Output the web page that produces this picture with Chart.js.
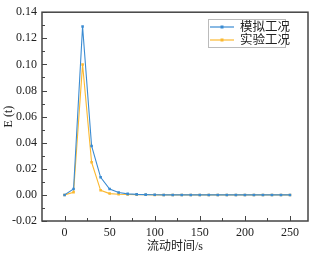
<!DOCTYPE html>
<html>
<head>
<meta charset="utf-8">
<script src="https://cdn.jsdelivr.net/npm/chart.js@4"></script>
<style>
  html, body { margin: 0; padding: 0; background: #fff; }
  #wrap { width: 315px; height: 254px; }
</style>
</head>
<body>
<div id="wrap"><canvas id="c" width="315" height="254"></canvas></div>
<script>
// flow time (s)
const times = [0, 10, 20, 30, 40, 50, 60, 70, 80, 90, 100, 110, 120, 130, 140, 150, 160, 170, 180, 190, 200, 210, 220, 230, 240, 250];
const simValues = [0, 0.0045, 0.129, 0.0375, 0.0135, 0.0045, 0.0018, 0.0008, 0.0004, 0.0002, 0.0001, 0, 0, 0, 0, 0, 0, 0, 0, 0, 0, 0, 0, 0, 0, 0];
const expValues = [0, 0.002, 0.100, 0.025, 0.0035, 0.001, 0.0005, 0.0003, 0.0002, 0.0001, 0, 0, 0, 0, 0, 0, 0, 0, 0, 0, 0, 0, 0, 0, 0, 0];
const seriesNames = ["模拟工况", "实验工况"];
const xTicks = [0, 50, 100, 150, 200, 250];
const yTicks = [-0.02, 0, 0.02, 0.04, 0.06, 0.08, 0.10, 0.12, 0.14];

const BLUE = "#3a8bd2";
const YELLOW = "#fbb931";
const AXIS = "#444";
const FONT = "'Liberation Serif', 'DejaVu Serif', serif";
const CJK = "'Liberation Serif', 'Noto Sans CJK SC', serif";

// inward ticks, minor ticks, frame and legend box
const frame = {
  id: "frame",
  afterDraw(chart) {
    const { ctx, chartArea: a, scales } = chart;
    const x = scales.x, y = scales.y;
    ctx.save();
    ctx.strokeStyle = AXIS;
    ctx.lineWidth = 1;
    ctx.beginPath();
    for (let v = 0; v <= 250; v += 25) {
      const px = Math.round(x.getPixelForValue(v)) + 0.5;
      const len = v % 50 === 0 ? 5 : 3;
      ctx.moveTo(px, a.bottom);
      ctx.lineTo(px, a.bottom - len);
    }
    for (let i = -2; i <= 14; i++) {
      const py = Math.round(y.getPixelForValue(i / 100)) + 0.5;
      const len = i % 2 === 0 ? 5 : 3;
      ctx.moveTo(a.left, py);
      ctx.lineTo(a.left + len, py);
    }
    ctx.stroke();
    ctx.lineWidth = 1.5;
    ctx.strokeRect(a.left, a.top, a.right - a.left, a.bottom - a.top);

    // legend
    const lx = 208, ly = 19, lw = 77, lh = 28;
    ctx.lineWidth = 1;
    ctx.strokeStyle = "#bbb";
    ctx.strokeRect(lx + 0.5, ly + 0.5, lw, lh);
    chart.data.datasets.forEach((ds, i) => {
      const cy = ly + 8 + i * 13;
      ctx.strokeStyle = ds.borderColor;
      ctx.lineWidth = 1.2;
      ctx.beginPath();
      ctx.moveTo(lx + 2, cy);
      ctx.lineTo(lx + 26, cy);
      ctx.stroke();
      ctx.fillStyle = ds.borderColor;
      ctx.fillRect(lx + 12.5, cy - 1.5, 3, 3);
      ctx.fillStyle = "#222";
      ctx.font = "12.5px " + CJK;
      ctx.textBaseline = "middle";
      ctx.fillText(ds.label, lx + 32, cy + 1);
    });
    ctx.restore();
  }
};

new Chart(document.getElementById("c").getContext("2d"), {
  type: "line",
  data: {
    datasets: [
      { label: seriesNames[0], data: times.map((t, i) => ({ x: t, y: simValues[i] })),
        borderColor: BLUE, backgroundColor: BLUE, borderWidth: 1.1,
        pointStyle: "rect", pointRadius: 1.8, pointBorderWidth: 0, tension: 0 },
      { label: seriesNames[1], data: times.map((t, i) => ({ x: t, y: expValues[i] })),
        borderColor: YELLOW, backgroundColor: YELLOW, borderWidth: 1.1,
        pointStyle: "rect", pointRadius: 1.8, pointBorderWidth: 0, tension: 0 }
    ]
  },
  options: {
    responsive: false,
    animation: false,
    layout: { padding: { top: 5, right: 7, left: 2, bottom: 0 } },
    plugins: { legend: { display: false }, tooltip: { enabled: false } },
    scales: {
      x: {
        type: "linear", min: -25, max: 270,
        afterBuildTicks: s => { s.ticks = xTicks.map(v => ({ value: v })); },
        afterFit: s => { s.height = 33; },
        grid: { display: false, drawTicks: false },
        border: { display: false },
        ticks: { color: "#222", padding: 5, maxRotation: 0, font: { family: FONT, size: 12 } },
        title: { display: true, text: "流动时间/s", color: "#222", padding: { top: 5, bottom: 0 },
                 font: { family: CJK, size: 12 } }
      },
      y: {
        type: "linear", min: -0.02, max: 0.14,
        afterBuildTicks: s => { s.ticks = yTicks.map(v => ({ value: v })); },
        afterFit: s => { s.width = 40; },
        grid: { display: false, drawTicks: false },
        border: { display: false },
        ticks: { color: "#222", padding: 5, font: { family: FONT, size: 12 },
                 callback: v => Number(v).toFixed(2) },
        title: { display: true, text: "E (t)", color: "#222", padding: { top: 0, bottom: 0 },
                 font: { family: FONT, size: 12 } }
      }
    }
  },
  plugins: [frame]
});
</script>
</body>
</html>
